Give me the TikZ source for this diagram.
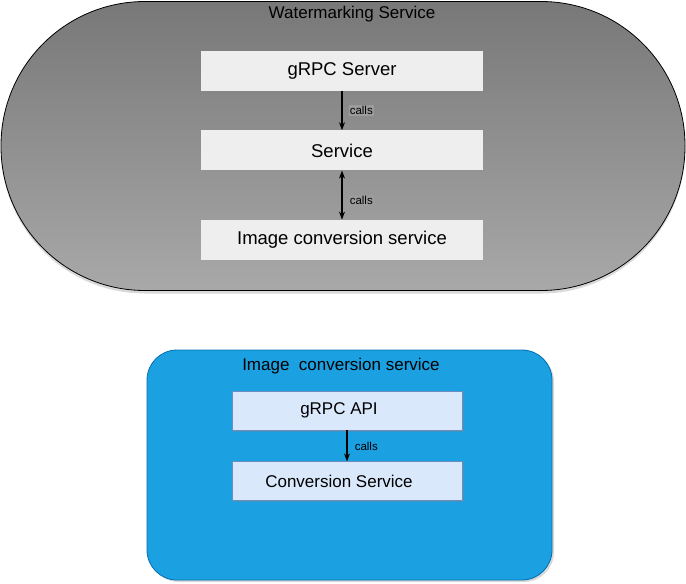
\documentclass[tikz,border=0pt]{standalone}
\usepackage{fontspec}
\setmainfont{Liberation Sans}
\usepackage{xcolor}
\usetikzlibrary{arrows.meta, positioning, shadows}

\definecolor{boxgray}{HTML}{EEEEEE}
\definecolor{labelgray}{HTML}{9C9C9C}
\definecolor{svcblue}{HTML}{1BA1E2}
\definecolor{svcbluedark}{HTML}{006EAF}
\definecolor{apifill}{HTML}{DAE8FC}
\definecolor{apidraw}{HTML}{6C8EBF}

\begin{document}
\begin{tikzpicture}[x=1pt, y=-1pt, >={Stealth[length=8pt, width=6pt]},
    wmbox/.style={fill=boxgray, minimum width=282pt, minimum height=40pt, inner sep=0pt,
        font=\fontsize{18.5}{22}\selectfont},
    apibox/.style={fill=apifill, draw=apidraw, line width=0.8pt, minimum width=230pt,
        minimum height=39pt, inner sep=0pt, font=\fontsize{17}{20}\selectfont,
        execute at begin node=\hspace*{-16pt},
        drop shadow={shadow xshift=1.5pt, shadow yshift=-1.5pt, opacity=0.35}},
    calls/.style={font=\fontsize{11.5}{13}\selectfont, inner sep=1.2pt}]
    \useasboundingbox (0,0) rectangle (686,584);

    % Watermarking service
    \node[draw, line width=0.8pt, rounded corners=144pt, minimum width=684pt, minimum height=289pt,
        top color=black!53, bottom color=black!34,
        drop shadow={shadow xshift=0pt, shadow yshift=-3pt, opacity=0.3}] (wm) at (343,146) {};
    \node[font=\fontsize{17}{20}\selectfont] (wmtitle) at (352,14) {Watermarking Service};
    \node[wmbox] (grpc) at (342,71) {gRPC Server};
    \node[wmbox, below=39pt of grpc] (svc) {Service};
    \node[wmbox, below=49pt of svc] (conv) {Image conversion service};

    \path[->, line width=1.1pt] (grpc) edge node[calls, fill=labelgray, right=6pt] {calls} (svc);
    \path[<->, line width=1.1pt] (svc) edge node[calls, fill=labelgray, right=6pt, pos=0.6] {calls} (conv);

    % Image conversion service
    \node[draw=svcbluedark, fill=svcblue, line width=0.8pt, rounded corners=30pt,
        minimum width=405pt, minimum height=230pt,
        drop shadow={shadow xshift=2pt, shadow yshift=-2pt, opacity=0.3}] (ics) at (349.5,465) {};
    \node[font=\fontsize{17}{20}\selectfont] (icstitle) at (341,366) {Image\ \ conversion service};
    \node[apibox] (api) at (347,410.5) {gRPC API};
    \node[apibox, below=31pt of api] (cs) {Conversion Service};

    \path[->, line width=1.1pt] (api) edge node[calls, right=6pt] {calls} (cs);
\end{tikzpicture}
\end{document}
